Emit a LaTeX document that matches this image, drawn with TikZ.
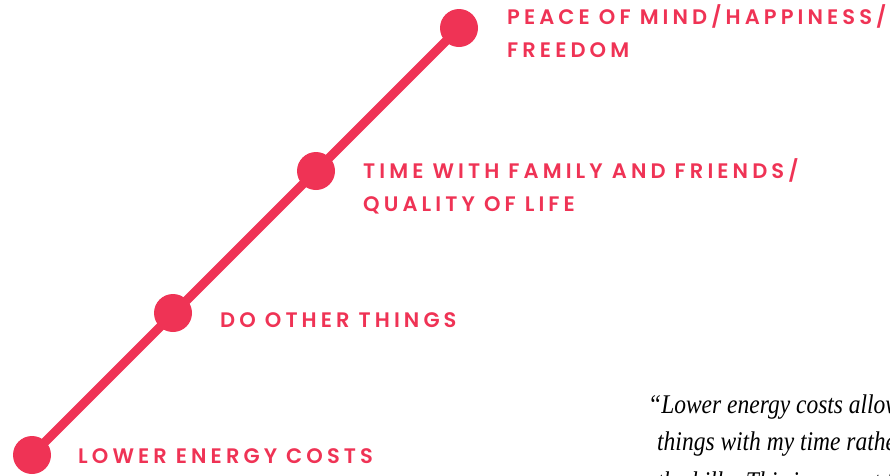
\documentclass[tikz,border=0pt]{standalone}
\usepackage{fontspec}
\usepackage{xcolor}
\usepackage{tikz}
\usetikzlibrary{positioning}
\setmainfont{Liberation Serif}[ItalicFeatures={FakeStretch=0.87}]
\newfontfamily\labelfont[LetterSpace=19.5]{Poppins SemiBold}
\definecolor{stepred}{HTML}{EF3355}
\tikzset{
  stepdot/.style={circle, fill=stepred, inner sep=0pt, minimum size=38pt},
  steplabel/.style={anchor=base west, text=stepred, font=\labelfont\fontsize{21}{33}\selectfont, align=left, inner sep=0pt},
  quoteline/.style={anchor=base west, font=\itshape\fontsize{27}{37}\selectfont, inner sep=0pt}
}

\begin{document}
\begin{tikzpicture}[x=1pt, y=-1pt]
\useasboundingbox (0,0) rectangle (890,475);
\clip (0,0) rectangle (890,475);

\coordinate (c1) at (32,455);
\coordinate (c2) at (173,313);
\coordinate (c3) at (316,171);
\coordinate (c4) at (459,28);

\draw[stepred, line width=9pt] (c1) -- (c4);

\node[stepdot] (d1) at (c1) {};
\node[stepdot] (d2) at (c2) {};
\node[stepdot] (d3) at (c3) {};
\node[stepdot] (d4) at (c4) {};

% two-line labels sit on the baseline of their last line
\node[steplabel] (l1) at (78,463) {LOWER ENERGY COSTS};
\node[steplabel] (l2) at (220,327) {DO OTHER THINGS};
\node[steplabel] (l3) at (363,211) {TIME WITH FAMILY AND FRIENDS/\\QUALITY OF LIFE};
\node[steplabel] (l4) at (507,57) {PEACE OF MIND/HAPPINESS/\\FREEDOM};

% quote, cut off at the right and bottom
\node[quoteline] (q1) at (648,413) {``Lower energy costs allow me to do};
\node[quoteline] (q2) at (657,450) {things with my time rather than pay};
\node[quoteline] (q3) at (657,490) {the bills. This is a great feeling.};
\end{tikzpicture}
\end{document}
